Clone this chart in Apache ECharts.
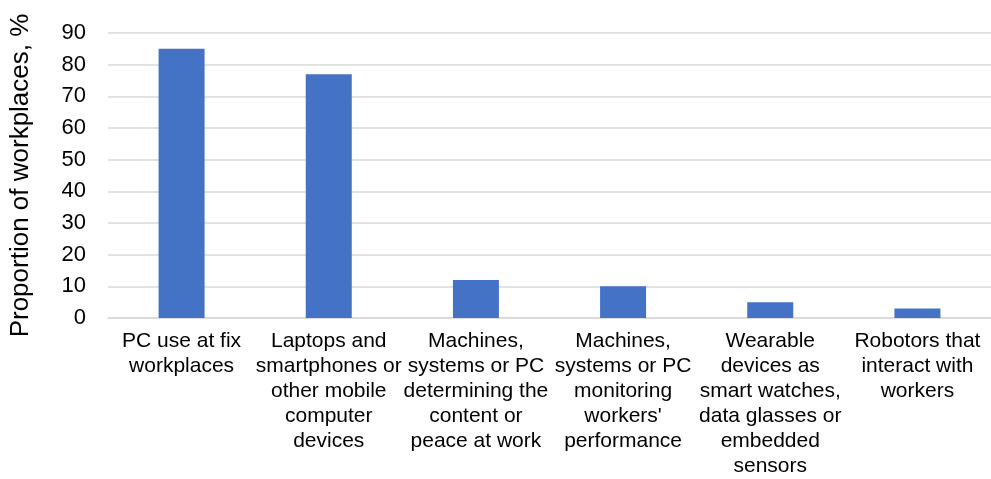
<!DOCTYPE html>
<html><head><meta charset="utf-8">
<script src="https://cdn.jsdelivr.net/npm/echarts@6/dist/echarts.min.js"></script>
<style>html,body{margin:0;padding:0;background:#fff}#c{width:991px;height:479px}</style>
</head><body><div id="c"></div>
<script>
const categories = [
  "PC use at fix\nworkplaces",
  "Laptops and\nsmartphones or\nother mobile\ncomputer\ndevices",
  "Machines,\nsystems or PC\ndetermining the\ncontent or\npeace at work",
  "Machines,\nsystems or PC\nmonitoring\nworkers'\nperformance",
  "Wearable\ndevices as\nsmart watches,\ndata glasses or\nembedded\nsensors",
  "Robotors that\ninteract with\nworkers"
];
const values = [85, 77, 12, 10, 5, 3];
const yAxisName = "Proportion of workplaces, %";

const chart = echarts.init(document.getElementById('c'));
chart.setOption({
  animation: false,
  grid: {left: 106, top: 33, width: 892, height: 291, containLabel: false},
  xAxis: {
    type: 'category', data: categories,
    axisLine: {show: true, lineStyle: {color: '#d9d9d9', width: 1.5}},
    axisTick: {show: false},
    axisLabel: {interval: 0, color: '#000', fontFamily: 'Liberation Sans', fontSize: 21, lineHeight: 25, margin: 11}
  },
  yAxis: {
    type: 'value', min: 0, max: 90, interval: 10,
    name: yAxisName, nameLocation: 'middle', nameRotate: 90, nameGap: 74,
    nameTextStyle: {color: '#000', fontFamily: 'Liberation Sans', fontSize: 26},
    axisLine: {show: false}, axisTick: {show: false},
    axisLabel: {color: '#000', fontFamily: 'Liberation Sans', fontSize: 22, margin: 22},
    splitLine: {lineStyle: {color: '#d9d9d9', width: 1.5}}
  },
  series: [{type: 'bar', data: values, barWidth: 46, itemStyle: {color: '#4472C4'}}]
});
</script></body></html>
